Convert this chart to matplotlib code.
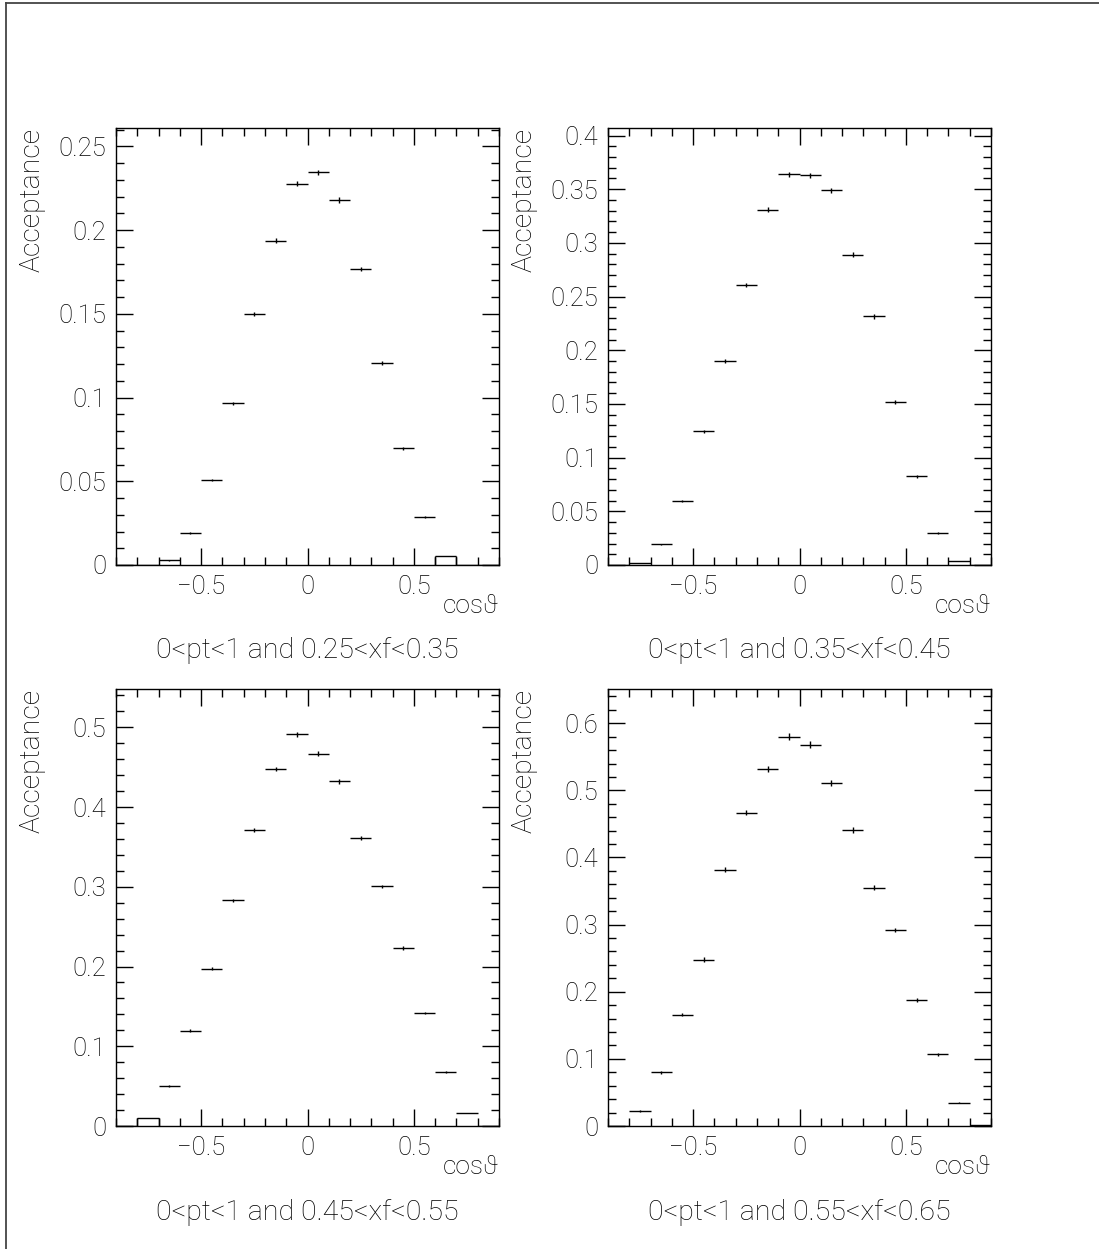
import numpy as np
import matplotlib.pyplot as plt
from matplotlib.ticker import MultipleLocator, FuncFormatter

# cos(theta) bins: 18 bins of width 0.1 from -0.9 to 0.9
edges = np.round(np.arange(-0.9, 0.91, 0.1), 2)
centers = (edges[:-1] + edges[1:]) / 2

acc_025 = [0.0, 0.0, 0.0028, 0.0192, 0.0508, 0.0965, 0.150, 0.1937, 0.2276,
           0.2346, 0.218, 0.1767, 0.1207, 0.0697, 0.0288, 0.0056, 0.0, 0.0]
err_025 = [0.0, 0.0, 0.0003, 0.0005, 0.0007, 0.0010, 0.0012, 0.0014, 0.0015,
           0.0016, 0.0015, 0.0013, 0.0011, 0.0009, 0.0006, 0.0, 0.0, 0.0]

acc_035 = [0.0, 0.0019, 0.0192, 0.0599, 0.1247, 0.190, 0.261, 0.331, 0.3637,
           0.363, 0.349, 0.289, 0.2315, 0.1518, 0.0825, 0.0301, 0.0037, 0.0]
err_035 = [0.0, 0.0003, 0.0007, 0.0010, 0.0014, 0.0017, 0.0020, 0.0023, 0.0025,
           0.0025, 0.0024, 0.0022, 0.0020, 0.0016, 0.0012, 0.0008, 0.0003, 0.0]

acc_045 = [0.0, 0.0096, 0.0502, 0.1197, 0.1975, 0.2828, 0.3707, 0.4477, 0.4912,
           0.467, 0.4322, 0.361, 0.3004, 0.223, 0.1418, 0.0682, 0.0163, 0.0]
err_045 = [0.0, 0.0, 0.0010, 0.0014, 0.0018, 0.0022, 0.0025, 0.0028, 0.0030,
           0.0029, 0.0028, 0.0026, 0.0024, 0.0021, 0.0017, 0.0012, 0.0006, 0.0]

acc_055 = [0.0, 0.0219, 0.0802, 0.166, 0.248, 0.382, 0.467, 0.532, 0.580,
           0.568, 0.511, 0.441, 0.355, 0.292, 0.188, 0.107, 0.0349, 0.001]
err_055 = [0.0, 0.0012, 0.0020, 0.0028, 0.0033, 0.0040, 0.0044, 0.0047, 0.0050,
           0.0049, 0.0046, 0.0043, 0.0039, 0.0035, 0.0028, 0.0021, 0.0012, 0.0003]

titles = ["0<pt<1 and 0.25<xf<0.35", "0<pt<1 and 0.35<xf<0.45",
          "0<pt<1 and 0.45<xf<0.55", "0<pt<1 and 0.55<xf<0.65"]
ymax = [0.261, 0.407, 0.548, 0.651]
ymajor = [0.05, 0.05, 0.1, 0.1]
yminor = [0.01, 0.01, 0.02, 0.02]
boxed = [[15], [], [1], []]   # bins drawn as open boxes (no error bar)

data = [(acc_025, err_025), (acc_035, err_035), (acc_045, err_045), (acc_055, err_055)]

W, H = 1099, 1249
fig = plt.figure(figsize=(W / 100, H / 100), dpi=100)
FONT = ['Roboto', 'DejaVu Sans']
plt.rcParams['font.family'] = FONT

# page frame (only top and left edges visible)
fig.add_artist(plt.Line2D([6 / W, 6 / W], [0, 1 - 3 / H], transform=fig.transFigure, color='#444444', lw=1.3))
fig.add_artist(plt.Line2D([6 / W, 1], [1 - 3 / H, 1 - 3 / H], transform=fig.transFigure, color='#444444', lw=1.3))

boxes = [(116, 128), (608, 128), (116, 689), (608, 689)]
aw, ah = 383, 437


def fmt(v, pos):
    s = ('%.2f' % v).rstrip('0').rstrip('.')
    if s == '-0':
        s = '0'
    return s.replace('-', '\u2212')


for i, (x0, y0) in enumerate(boxes):
    ax = fig.add_axes([x0 / W, 1 - (y0 + ah) / H, aw / W, ah / H])
    vals, errs = data[i]
    vals = np.array(vals)
    errs = np.array(errs)
    ax.errorbar(centers, vals, xerr=0.05, yerr=errs, fmt='none', ecolor='k',
                elinewidth=1.0, capsize=0)
    for b in boxed[i]:
        ax.vlines([edges[b], edges[b + 1]], 0, vals[b], color='k', lw=1.0)
    ax.set_xlim(-0.9, 0.9)
    ax.set_ylim(0, ymax[i])
    ax.xaxis.set_major_locator(MultipleLocator(0.5))
    ax.xaxis.set_minor_locator(MultipleLocator(0.1))
    ax.yaxis.set_major_locator(MultipleLocator(ymajor[i]))
    ax.yaxis.set_minor_locator(MultipleLocator(yminor[i]))
    ax.xaxis.set_major_formatter(FuncFormatter(fmt))
    ax.yaxis.set_major_formatter(FuncFormatter(fmt))
    ax.tick_params(which='both', direction='in', top=True, right=True,
                   width=1.0, labelsize=18.5, pad=7)
    ax.tick_params(which='major', length=12)
    ax.tick_params(which='minor', length=6)
    for sp in ax.spines.values():
        sp.set_linewidth(1.0)
    for lab in ax.get_xticklabels() + ax.get_yticklabels():
        lab.set_fontweight('light')

    fig.text((x0 - 84) / W, 1 - y0 / H, "Acceptance", rotation=90, ha='center',
             va='top', fontsize=20.5, fontweight='light')
    fig.text((x0 + aw) / W, 1 - (y0 + ah + 41) / H, "cos\u03d1", ha='right',
             va='center', fontsize=19, fontweight='light')
    fig.text((x0 + aw / 2) / W, 1 - (y0 + ah + 86) / H, titles[i], ha='center',
             va='center', fontsize=20.5, fontweight='light')

fig.savefig('out.png', dpi=100)
